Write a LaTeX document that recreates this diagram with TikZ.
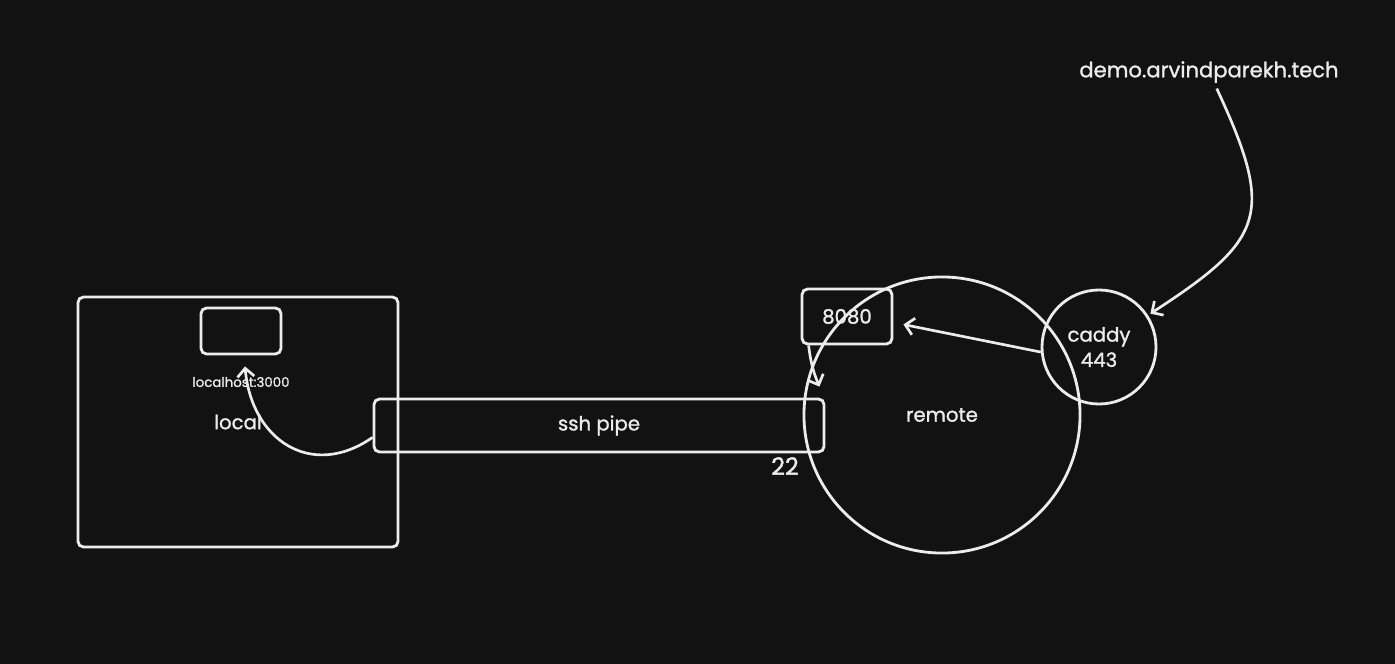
\documentclass[tikz,border=0pt]{standalone}
\usepackage{fontspec}
\setmainfont{Poppins}[UprightFeatures={FakeBold=1.2}]
\usetikzlibrary{arrows.meta,positioning,shapes}
\definecolor{canvas}{HTML}{121212}
\definecolor{ink}{HTML}{ECECEC}

\begin{document}
\begin{tikzpicture}[x=0.025cm,y=-0.025cm,->,>={Straight Barb[length=6pt,width=12pt]},line width=1.6pt]
\tikzstyle{every node}=[text=ink,font=\fontsize{14}{18}\selectfont]
\tikzstyle{every edge}=[draw,line width=1.9pt]
\tikzstyle{box}=[draw=ink,shape=rectangle,rounded corners=4pt,line width=2pt,inner sep=0pt,align=center]
\tikzstyle{ring}=[draw=ink,shape=circle,line width=2pt,inner sep=0pt,align=center]
\tikzstyle{label}=[draw=none]

\fill[canvas,-] (0,0) rectangle (1395,664);

\node[box,minimum width=8cm,minimum height=6.25cm]      (L) at (238,422)   {\raisebox{-2pt}{local}};
\node[box,minimum width=2cm,minimum height=1.15cm]      (P) at (241,331)   {};
\node[label,font=\fontsize{9.5}{11}\selectfont] (LH) [below of=P,node distance=1.275cm] {localhost:3000};
\node[box,minimum width=11.25cm,minimum height=1.325cm] (S) at (599,425.5) {\raisebox{-2pt}{ssh pipe}};
\node[label,font=\fontsize{17}{20}\selectfont]          (T) at (785,466)   {22};
\node[ring,minimum size=6.9cm]                          (R) at (942,415)   {\raisebox{-2pt}{remote}};
\node[box,minimum width=2.25cm,minimum height=1.375cm]  (E) at (847,316.5) {8080};
\node[ring,minimum size=2.85cm]                         (C) at (1099,347)  {caddy\\443};
\node[label,font=\fontsize{15}{18}\selectfont]          (D) at (1209,72)   {demo.arvindparekh.tech};

\path[color=ink]
(D.-65) edge[out=-65,in=33,looseness=1.5,shorten >=2pt] (C)
(C.185) edge ([xshift=0.25cm,yshift=-0.2cm]E.east)
(E.-143) edge[bend right=8] ([xshift=-0.15cm,yshift=0.275cm]S.north east)
(S.-177) edge[out=-145,in=-85,looseness=1.3] ([xshift=0.1cm,yshift=-0.275cm]P.south)
;
\end{tikzpicture}
\end{document}
